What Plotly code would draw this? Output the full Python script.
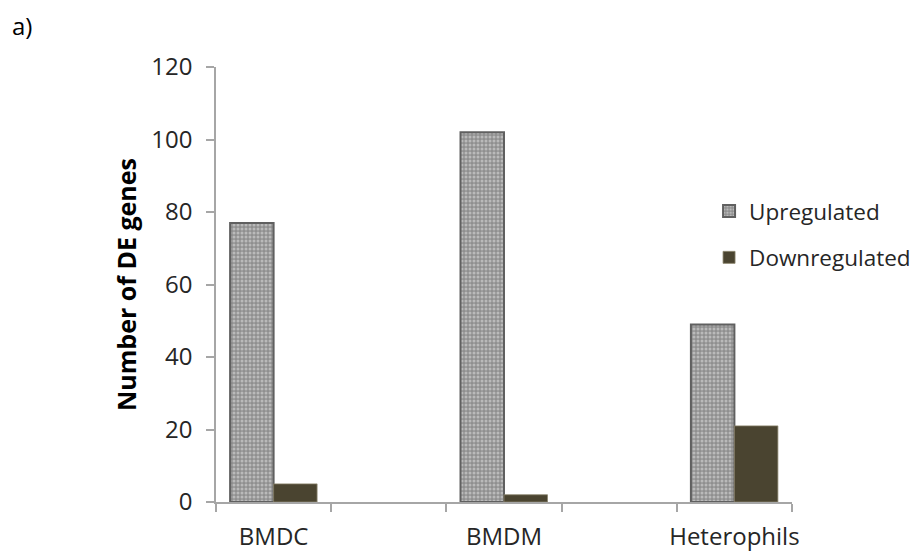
import plotly.graph_objects as go

# Cell types and differentially expressed gene counts
categories = ["BMDC", "BMDM", "Heterophils"]
upregulated = [77, 102, 49]
downregulated = [5, 2, 21]

# Category slots along the x axis (blank slots separate the cell types)
slots = ["BMDC", " ", "BMDM", "  ", "Heterophils"]
y_ticks = [0, 20, 40, 60, 80, 100, 120]

FONT = "Open Sans"
AXIS_GREY = "#a6a6a6"
TEXT = "#262626"

fig = go.Figure()
fig.add_trace(go.Bar(
    name="Upregulated", x=categories, y=upregulated,
    marker=dict(
        color="#8f8f8f",
        line=dict(color="#606060", width=2),
        pattern=dict(shape=".", fgcolor="#e6e6e6", bgcolor="#8f8f8f",
                     size=4, solidity=0.45, fillmode="overlay"),
    ),
    legendgroup="up",
))
fig.add_trace(go.Bar(
    name="Downregulated", x=categories, y=downregulated,
    marker=dict(color="#4a4430", line=dict(color="#8a846c", width=0.8)),
    legendgroup="down",
))

fig.update_layout(
    width=917, height=553,
    margin=dict(l=216, r=125, t=67, b=51, autoexpand=False),
    paper_bgcolor="white", plot_bgcolor="white",
    barmode="group", bargap=0.245, bargroupgap=0,
    font=dict(family=FONT, color=TEXT),
    showlegend=True,
    legend=dict(
        x=0.856, y=0.615, xanchor="left", yanchor="middle",
        font=dict(size=22.5, family=FONT, color=TEXT),
        tracegroupgap=14, itemwidth=30, bgcolor="rgba(0,0,0,0)",
    ),
    xaxis=dict(
        type="category", categoryorder="array", categoryarray=slots,
        range=[-0.5, 4.5], tickangle=0,
        showline=True, linecolor=AXIS_GREY, linewidth=1.5,
        ticks="outside", tickson="boundaries", ticklen=8,
        tickcolor=AXIS_GREY, tickwidth=1.5,
        tickfont=dict(size=24, family=FONT, color=TEXT),
        ticklabelstandoff=12,
        showgrid=False, zeroline=False,
    ),
    yaxis=dict(
        range=[0, 120], tickvals=y_ticks,
        showline=True, linecolor=AXIS_GREY, linewidth=1.5,
        ticks="outside", ticklen=8, tickcolor=AXIS_GREY, tickwidth=1.5,
        tickfont=dict(size=24, family=FONT, color=TEXT),
        ticklabelstandoff=9,
        showgrid=False, zeroline=False,
        title=dict(text="<b>Number of DE genes</b>",
                   font=dict(size=25, family=FONT, color="#000000"),
                   standoff=8),
    ),
)

# Panel label near the top-left corner of the page
fig.add_annotation(
    text="a)", xref="paper", yref="paper",
    x=-206 / 576, y=1 + 42 / 435,
    xanchor="left", yanchor="middle", showarrow=False,
    font=dict(size=24, family=FONT, color="#000000"),
)

fig.write_html("out.html")
